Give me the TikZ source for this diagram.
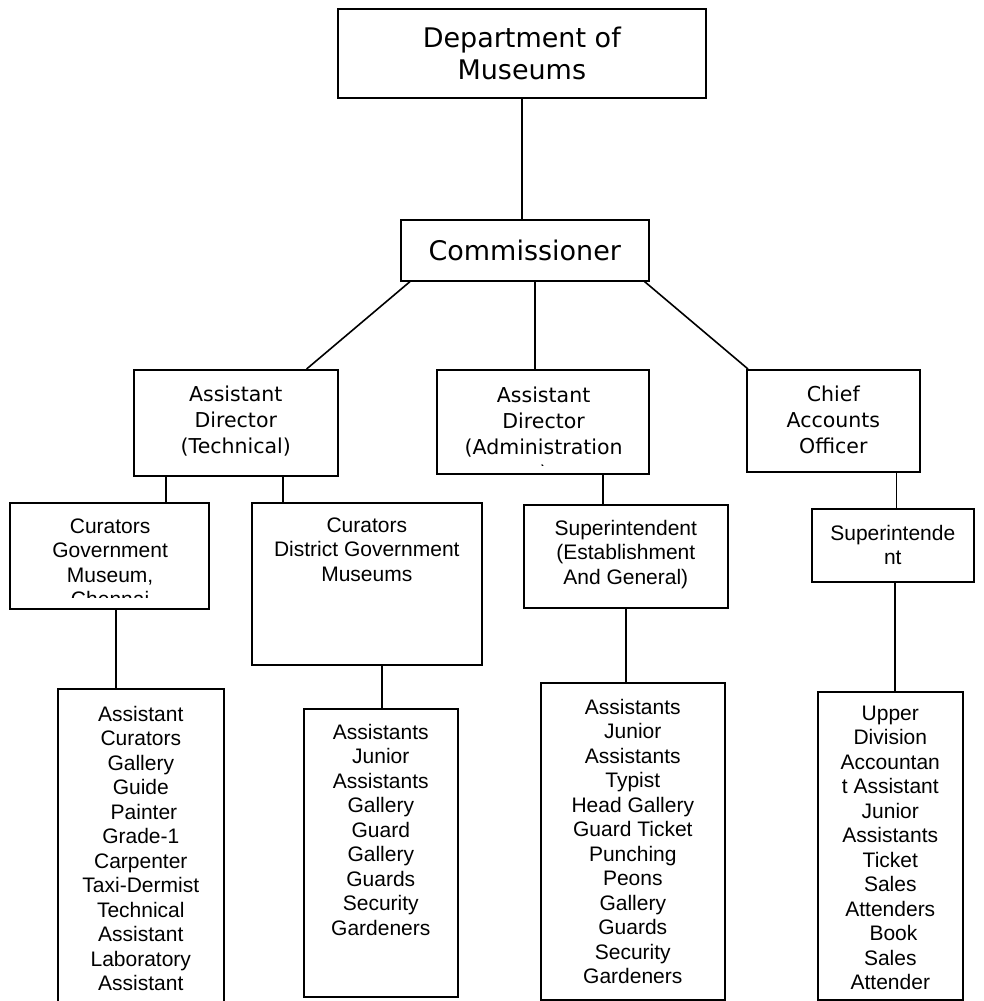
\documentclass[tikz,border=0pt]{standalone}
\usepackage{fontspec}
\setmainfont{Liberation Sans}
\newfontfamily\verdfont{DejaVu Sans}

% top aligned text inside a box: width, height, top pad, text
\newcommand{\cell}[4]{\parbox[t][#2][t]{#1}{\vspace*{#3}\centering #4\par}}
\newcommand{\bigfont}{\verdfont\fontsize{27}{32}\selectfont}
\newcommand{\midfont}{\verdfont\fontsize{20.5}{26}\selectfont}
\newcommand{\smallfont}{\fontsize{21}{24.5}\selectfont}

\begin{document}
\begin{tikzpicture}[x=1pt,y=-1pt]
\tikzstyle{orgbox}=[draw, line width=1.6pt, inner sep=0pt, anchor=north west]
\tikzstyle{link}=[line width=1.6pt]
\useasboundingbox (0,0) rectangle (983,1001);

% head
\node[orgbox] (dept) at (337,8) {\cell{368pt}{89pt}{18pt}{\bigfont Department of\\Museums}};
\node[orgbox] (comm) at (400,219) {\cell{248pt}{61pt}{20pt}{\bigfont Commissioner}};

% directors
\node[orgbox] (tech) at (133,369) {\cell{204pt}{106pt}{16pt}{\midfont Assistant\\Director\\(Technical)}};
\node[orgbox, minimum width=212pt, minimum height=104pt, path picture={
  \clip ([yshift=8pt]path picture bounding box.south west) rectangle (path picture bounding box.north east);
  \node[draw=none, inner sep=0pt, anchor=north west] at (path picture bounding box.north west)
    {\cell{212pt}{104pt}{16pt}{\midfont Assistant\\Director\\(Administration\\)}};
}] (adm) at (436,369) {};
\node[orgbox] (chief) at (746,369) {\cell{173pt}{102pt}{16pt}{\midfont Chief\\Accounts\\Officer}};

% curators and superintendents
\node[orgbox, minimum width=199pt, minimum height=106pt, path picture={
  \clip ([yshift=11pt]path picture bounding box.south west) rectangle (path picture bounding box.north east);
  \node[draw=none, inner sep=0pt, anchor=north west] at (path picture bounding box.north west)
    {\cell{199pt}{106pt}{15pt}{\smallfont Curators\\Government\\Museum,\\Chennai}};
}] (chennai) at (9,502) {};
\node[orgbox] (dist) at (251,502) {\cell{230pt}{162pt}{15pt}{\smallfont Curators\\District Government\\Museums}};
\node[orgbox] (supest) at (523,504) {\cell{204pt}{103pt}{15pt}{\smallfont Superintendent\\(Establishment\\And General)}};
\node[orgbox] (sup) at (811,508) {\cell{162pt}{73pt}{16pt}{\smallfont Superintende\\nt}};

% staff
\node[orgbox] (staffa) at (57,688) {\cell{166pt}{316pt}{17pt}{\smallfont Assistant\\Curators\\Gallery\\Guide\\\hspace*{0.3em}Painter\\Grade-1\\Carpenter\\Taxi-Dermist\\Technical\\Assistant\\Laboratory\\Assistant}};
\node[orgbox] (staffb) at (303,708) {\cell{154pt}{288pt}{15pt}{\smallfont Assistants\\Junior\\Assistants\\Gallery\\Guard\\Gallery\\Guards\\Security\\Gardeners}};
\node[orgbox] (staffc) at (540,682) {\cell{184pt}{317pt}{16pt}{\smallfont Assistants\\Junior\\Assistants\\Typist\\Head Gallery\\Guard Ticket\\Punching\\Peons\\Gallery\\Guards\\Security\\Gardeners}};
\node[orgbox] (staffd) at (817,691) {\cell{145pt}{308pt}{14pt}{\smallfont Upper\\Division\\Accountan\\t Assistant\\Junior\\Assistants\\Ticket\\Sales\\Attenders\\\hspace*{0.3em}Book\\Sales\\Attender}};

% connectors
\draw[link] (dept.south) -- (dept.south |- comm.north);
\draw[link] ([xshift=10pt]comm.south west) -- ([xshift=-32pt]tech.north east);
\draw[link] ([xshift=10pt]comm.south) -- ([xshift=10pt]comm.south |- adm.north);
\draw[link] ([xshift=-5pt]comm.south east) -- ([xshift=2pt]chief.north west);
\draw[link] ([xshift=33pt]tech.south west) -- ([xshift=33pt]tech.south west |- chennai.north);
\draw[link] ([xshift=150pt]tech.south west) -- ([xshift=150pt]tech.south west |- dist.north);
\draw[link] ([xshift=167pt]adm.south west) -- ([xshift=167pt]adm.south west |- supest.north);
\draw[link] ([xshift=-24pt]chief.south east) -- ([xshift=-24pt]chief.south east |- sup.north);
\draw[link] ([xshift=107pt]chennai.south west) -- ([xshift=107pt]chennai.south west |- staffa.north);
\draw[link] ([xshift=131pt]dist.south west) -- ([xshift=131pt]dist.south west |- staffb.north);
\draw[link] ([xshift=103pt]supest.south west) -- ([xshift=103pt]supest.south west |- staffc.north);
\draw[link] ([xshift=84pt]sup.south west) -- ([xshift=84pt]sup.south west |- staffd.north);
\end{tikzpicture}
\end{document}
